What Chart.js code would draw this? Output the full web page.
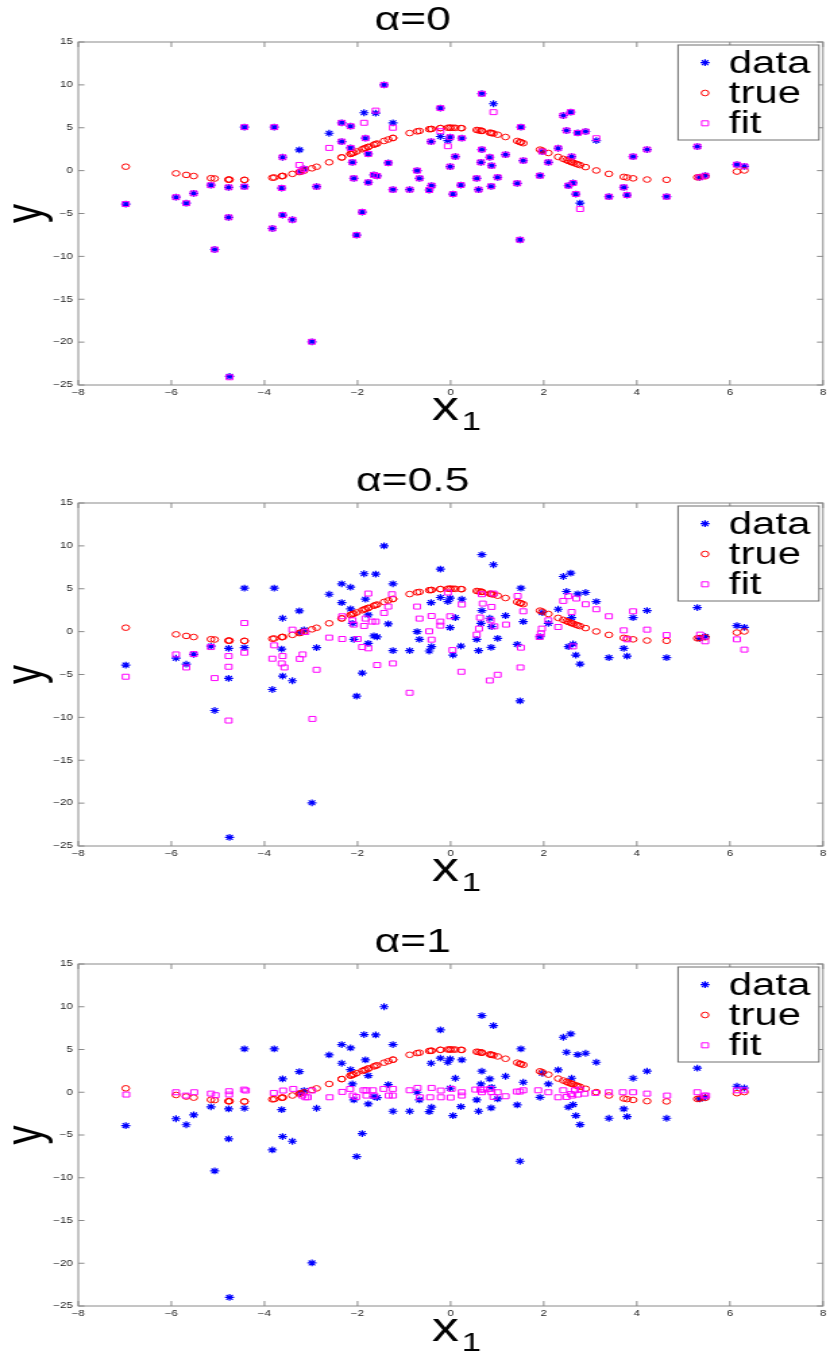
<!DOCTYPE html>
<html>
<head>
<meta charset="utf-8">
<script src="https://cdn.jsdelivr.net/npm/chart.js@4.4.1/dist/chart.umd.min.js"></script>
<style>
  html, body { margin: 0; padding: 0; background: #fff; }
  canvas { display: block; }
</style>
</head>
<body>
<canvas id="c0" width="615" height="461" style="width:830px;height:461px"></canvas>
<canvas id="c1" width="615" height="461" style="width:830px;height:461px"></canvas>
<canvas id="c2" width="615" height="435" style="width:830px;height:435px"></canvas>
<script>
// shared samples (x_1, noisy observation, true curve value)
const dataX = [-6.98,-5.90,-5.68,-5.52,-5.15,-5.07,-4.77,-4.77,-4.75,-4.43,-4.43,-3.83,-3.79,-3.63,-3.61,-3.61,-3.40,-3.25,-3.22,-3.15,
  -2.98,-2.88,-2.61,-2.34,-2.34,-2.15,-2.15,-2.11,-2.08,-2.02,-1.90,-1.86,-1.83,-1.77,-1.77,-1.65,-1.61,-1.58,-1.43,-1.34,
  -1.24,-1.24,-0.88,-0.72,-0.67,-0.46,-0.42,-0.41,-0.22,-0.22,-0.06,-0.01,-0.01,0.05,0.10,0.22,0.24,0.56,0.60,0.65,
  0.67,0.67,0.84,0.87,0.88,0.92,1.01,1.18,1.43,1.49,1.51,1.56,1.92,1.97,2.10,2.31,2.42,2.49,2.53,2.58,
  2.60,2.63,2.69,2.73,2.78,2.90,3.13,3.40,3.72,3.79,3.92,4.22,4.64,5.30,5.35,5.47,6.15,6.31];
const dataY = [-3.9,-3.1,-3.8,-2.65,-1.7,-9.2,-1.95,-5.45,-24.0,5.07,-1.87,-6.75,5.07,-2.03,1.56,-5.18,-5.73,2.42,-0.1,0.2,
  -19.96,-1.87,4.36,5.58,3.39,5.18,2.65,0.97,-0.9,-7.52,-4.83,6.75,3.78,1.95,-1.37,-0.5,6.7,-0.62,10.0,0.9,
  5.58,-2.22,-2.22,0.0,-0.9,-2.26,3.39,-1.75,7.29,3.98,3.51,3.9,0.47,-2.73,1.64,-1.68,3.78,-0.9,-2.22,0.97,
  2.46,8.97,1.56,-1.83,0.58,7.8,-0.78,1.87,-1.48,-8.07,5.07,1.17,-0.59,2.22,0.97,2.61,6.43,4.68,-1.75,6.82,
  1.64,-1.44,-2.73,4.4,-3.78,4.56,3.51,-3.04,-1.95,-2.85,1.64,2.46,-3.04,2.81,-0.78,-0.59,0.7,0.5];
const trueY = [0.46,-0.32,-0.50,-0.63,-0.88,-0.92,-1.05,-1.05,-1.05,-1.08,-1.08,-0.83,-0.80,-0.65,-0.62,-0.62,-0.38,-0.17,-0.12,-0.01,
  0.27,0.45,0.97,1.54,1.54,1.95,1.95,2.03,2.10,2.23,2.49,2.58,2.64,2.77,2.77,3.02,3.10,3.16,3.46,3.63,
  3.81,3.81,4.38,4.58,4.63,4.83,4.85,4.86,4.96,4.96,5.00,5.00,5.00,5.00,4.99,4.96,4.95,4.74,4.70,4.65,
  4.63,4.63,4.43,4.39,4.38,4.33,4.19,3.92,3.46,3.34,3.30,3.20,2.45,2.34,2.06,1.60,1.37,1.22,1.13,1.03,
  0.99,0.93,0.81,0.73,0.64,0.41,0.02,-0.38,-0.73,-0.80,-0.90,-1.04,-1.07,-0.78,-0.75,-0.66,-0.11,0.02];

// fit, alpha = 0 (same x as the data)
const fitY0 = [-3.9,-3.1,-3.8,-2.65,-1.7,-9.2,-1.95,-5.45,-24.1,5.07,-1.87,-6.75,5.07,-2.03,1.56,-5.18,-5.73,0.66,-0.1,0.2,
  -19.96,-1.87,2.65,5.58,3.39,5.18,2.65,0.97,-0.9,-7.52,-4.83,5.58,3.78,1.95,-1.37,-0.5,7.0,-0.62,10.0,0.9,
  5.0,-2.22,-2.22,0.0,-0.9,-2.26,3.39,-1.75,7.29,4.6,2.85,3.9,0.47,-2.73,1.64,-1.68,3.78,-0.9,-2.22,0.97,
  2.46,8.97,1.56,-1.83,0.58,6.82,-0.78,1.87,-1.48,-8.07,5.07,1.17,-0.59,2.22,0.97,2.61,6.43,4.68,-1.75,6.82,
  1.64,-1.44,-2.73,4.4,-4.48,4.56,3.78,-3.04,-1.95,-2.85,1.64,2.46,-3.04,2.81,-0.78,-0.59,0.7,0.5];

// fit, alpha = 0.5
const fitX05 = [-6.98,-5.90,-5.68,-5.52,-5.15,-5.07,-4.77,-4.77,-4.77,-4.43,-4.43,-3.83,-3.79,-3.63,-3.61,-3.57,-3.40,-3.24,-3.18,-3.12,
  -2.97,-2.88,-2.61,-2.33,-2.33,-2.11,-2.08,-2.00,-1.90,-1.86,-1.83,-1.77,-1.77,-1.69,-1.61,-1.58,-1.43,-1.34,-1.26,-1.24,
  -0.88,-0.72,-0.67,-0.46,-0.41,-0.41,-0.22,-0.22,-0.06,-0.01,0.04,0.23,0.24,0.56,0.61,0.63,0.67,0.69,0.84,0.86,
  0.88,0.92,0.94,1.01,1.19,1.44,1.50,1.51,1.56,1.91,1.94,1.96,2.10,2.31,2.42,2.53,2.60,2.63,2.70,2.90,
  3.13,3.40,3.72,3.79,3.92,4.22,4.64,5.36,5.47,6.15,6.31];
const fitY05 = [-5.26,-2.66,-4.18,-2.62,-1.8,-5.42,-2.85,-4.1,-10.37,1.0,-2.46,-3.16,-1.6,-3.71,-2.85,-4.18,0.23,-3.18,-2.66,-0.05,
  -10.18,-4.45,-0.7,-0.86,1.79,1.32,0.82,-0.86,-1.8,0.66,1.52,4.44,-1.95,1.17,1.17,-3.9,2.18,2.92,4.36,-3.71,
  -7.13,2.92,1.52,0.04,1.82,-0.94,1.17,0.7,4.56,1.79,-2.15,-4.68,3.16,-0.35,0.35,1.64,4.36,3.27,-5.7,1.32,
  2.88,4.44,0.62,-5.03,0.82,4.16,-4.18,-1.87,2.37,-0.63,-0.2,0.35,1.32,0.54,3.58,4.13,2.29,-1.72,3.86,3.19,
  2.61,1.79,0.15,-0.9,2.37,0.23,-0.4,-0.35,-1.13,-0.9,-2.1];

// fit, alpha = 1
const fitX1 = [-6.97,-5.90,-5.69,-5.51,-5.15,-5.05,-4.76,-4.76,-4.44,-4.40,-3.80,-3.60,-3.38,-3.19,-3.12,-3.07,-2.98,-2.60,-2.33,-2.16,
  -2.10,-2.03,-1.87,-1.81,-1.81,-1.67,-1.64,-1.44,-1.33,-1.24,-1.24,-0.88,-0.71,-0.66,-0.44,-0.41,-0.21,-0.21,0.00,0.02,
  0.24,0.24,0.53,0.64,0.71,0.67,0.85,0.88,0.92,1.01,1.18,1.42,1.49,1.56,1.88,2.10,2.31,2.42,2.49,2.58,
  2.61,2.67,2.73,2.78,2.88,3.11,3.40,3.70,3.92,4.22,4.65,5.30,5.45,5.49,6.15,6.30];
const fitY1 = [-0.27,0.0,-0.39,0.0,-0.16,-0.35,0.12,-0.27,0.31,0.2,-0.08,0.2,0.39,-0.39,-0.59,-0.59,0.2,-0.59,0.04,0.39,
  -0.39,-0.55,0.23,0.23,-0.39,0.23,-0.39,0.39,-0.39,-0.39,0.39,0.23,0.51,-0.59,-0.59,0.51,0.2,-0.59,-0.62,0.39,
  0.0,-0.39,0.31,0.31,0.31,0.0,0.39,0.0,-0.55,0.0,-0.47,0.08,0.08,0.23,0.23,0.0,-0.59,0.23,-0.55,-0.2,
  -0.39,0.23,-0.27,0.31,-0.16,-0.08,0.0,0.0,0.0,-0.16,-0.39,0.0,-0.39,-0.39,0.23,0.23];

const xTicks = { min: -8, max: 8, step: 2 };
const yTicks = { min: -25, max: 15, step: 5 };

const colors = {
  data: '#0000ff',
  truth: '#ff0000',
  fit: '#ff00ff',
  axis: '#8a8a8a',
  text: '#000000'
};

const FONT = "'Liberation Sans', Arial, sans-serif";

function pts(xs, ys) {
  return xs.map((x, i) => ({ x: x, y: ys[i] }));
}

// simple marker drawing for the legend box
function drawMarker(ctx, style, color, x, y) {
  ctx.save();
  ctx.strokeStyle = color;
  ctx.lineWidth = style === 'star' ? 1.2 : 1;
  ctx.beginPath();
  if (style === 'star') {
    const r = 3.4, d = r * Math.SQRT1_2;
    ctx.moveTo(x - r, y); ctx.lineTo(x + r, y);
    ctx.moveTo(x, y - r); ctx.lineTo(x, y + r);
    ctx.moveTo(x - d, y - d); ctx.lineTo(x + d, y + d);
    ctx.moveTo(x - d, y + d); ctx.lineTo(x + d, y - d);
  } else if (style === 'circle') {
    ctx.arc(x, y, 2.8, 0, Math.PI * 2);
  } else {
    ctx.rect(x - 2.5, y - 2.5, 5, 5);
  }
  ctx.stroke();
  ctx.restore();
}

// MATLAB-like box, inward ticks, x label with subscript and legend
const matlabAxes = {
  id: 'matlabAxes',
  afterDraw(chart) {
    const ctx = chart.ctx;
    const a = chart.chartArea;
    const xs = chart.scales.x, ys = chart.scales.y;
    ctx.save();
    ctx.strokeStyle = colors.axis;
    ctx.lineWidth = 1;
    ctx.strokeRect(a.left, a.top, a.right - a.left, a.bottom - a.top);
    ctx.beginPath();
    xs.ticks.forEach(t => {
      const px = xs.getPixelForValue(t.value);
      ctx.moveTo(px, a.bottom); ctx.lineTo(px, a.bottom - 5);
      ctx.moveTo(px, a.top); ctx.lineTo(px, a.top + 5);
    });
    ys.ticks.forEach(t => {
      const py = ys.getPixelForValue(t.value);
      ctx.moveTo(a.left, py); ctx.lineTo(a.left + 4.5, py);
      ctx.moveTo(a.right, py); ctx.lineTo(a.right - 4.5, py);
    });
    ctx.stroke();

    // x label: x with subscript 1
    const cx = xs.getPixelForValue(0);
    ctx.fillStyle = colors.text;
    ctx.textBaseline = 'alphabetic';
    ctx.textAlign = 'left';
    ctx.font = '40px ' + FONT;
    ctx.fillText('x', cx - 14, a.bottom + 35);
    ctx.font = '26px ' + FONT;
    ctx.fillText('1', cx + 8, a.bottom + 45);

    // legend
    const bw = 104.4, bh = 95;
    const bx = a.right - 3 - bw, by = a.top + 3;
    ctx.fillStyle = '#ffffff';
    ctx.fillRect(bx, by, bw, bh);
    ctx.strokeStyle = '#707070';
    ctx.strokeRect(bx, by, bw, bh);
    ctx.font = '31px ' + FONT;
    ctx.fillStyle = colors.text;
    chart.data.datasets.forEach((ds, i) => {
      const my = by + 17.7 + i * 30.3;
      drawMarker(ctx, ds.pointStyle, ds.borderColor, bx + 20, my);
      ctx.fillText(ds.label, bx + 37.7, my + 10);
    });
    ctx.restore();
  }
};

function makeChart(id, title, fitX, fitY, xAxisHeight) {
  const ctx = document.getElementById(id).getContext('2d');
  return new Chart(ctx, {
    type: 'scatter',
    data: {
      datasets: [
        { label: 'data', data: pts(dataX, dataY), pointStyle: 'star', pointRadius: 3.4,
          borderColor: colors.data, backgroundColor: 'rgba(0,0,0,0)', borderWidth: 1.2, order: 3 },
        { label: 'true', data: pts(dataX, trueY), pointStyle: 'circle', pointRadius: 2.8,
          borderColor: colors.truth, backgroundColor: 'rgba(0,0,0,0)', borderWidth: 1, order: 2 },
        { label: 'fit', data: pts(fitX, fitY), pointStyle: 'rect', pointRadius: 3.5,
          borderColor: colors.fit, backgroundColor: 'rgba(0,0,0,0)', borderWidth: 1, order: 1 }
      ]
    },
    options: {
      responsive: false,
      animation: false,
      devicePixelRatio: 1,
      events: [],
      layout: { padding: { left: 0, right: 3.5, top: 0, bottom: 0 } },
      plugins: {
        legend: { display: false },
        tooltip: { enabled: false },
        title: {
          display: true,
          text: title,
          color: colors.text,
          font: { family: FONT, size: 33, weight: 'normal', lineHeight: 1.2 },
          padding: { top: 1, bottom: 1.4 }
        }
      },
      scales: {
        x: {
          type: 'linear',
          min: xTicks.min, max: xTicks.max,
          grid: { display: false, drawTicks: false },
          border: { display: false },
          ticks: {
            stepSize: xTicks.step, padding: 3, color: '#222',
            font: { family: FONT, size: 8.5 },
            callback: v => String(v).replace('-', '\u2212')
          },
          title: { display: false },
          afterFit: s => { s.height = xAxisHeight; s.paddingLeft = 0; s.paddingRight = 0; }
        },
        y: {
          type: 'linear',
          min: yTicks.min, max: yTicks.max,
          grid: { display: false, drawTicks: false },
          border: { display: false },
          ticks: {
            stepSize: yTicks.step, padding: 4, color: '#222',
            font: { family: FONT, size: 8.5 },
            callback: v => String(v).replace('-', '\u2212')
          },
          title: {
            display: true, text: 'y', color: colors.text,
            font: { family: FONT, size: 38, lineHeight: 1 },
            padding: { top: 2, bottom: 0 }
          },
          afterFit: s => { s.width = 58; s.paddingTop = 0; s.paddingBottom = 0; }
        }
      }
    },
    plugins: [matlabAxes]
  });
}

makeChart('c0', '\u03b1=0', dataX, fitY0, 76);
makeChart('c1', '\u03b1=0.5', fitX05, fitY05, 76);
makeChart('c2', '\u03b1=1', fitX1, fitY1, 51);
</script>
</body>
</html>
